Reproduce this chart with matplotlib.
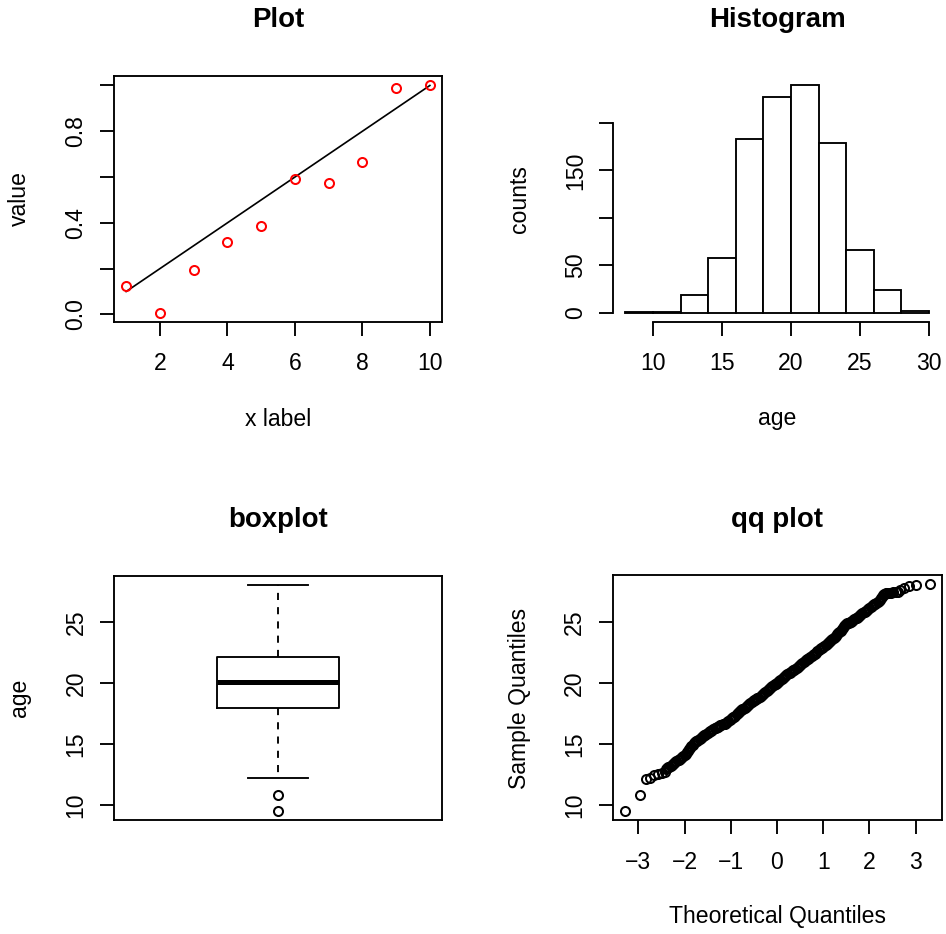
import numpy as np
import matplotlib
matplotlib.use("Agg")
import matplotlib.pyplot as plt

plt.rcParams['font.family'] = ['Liberation Sans', 'DejaVu Sans']

# ---------------- data ----------------
# Plot (top-left)
plot_x = [1, 2, 3, 4, 5, 6, 7, 8, 9, 10]
plot_y = [0.126, 0.008, 0.192, 0.316, 0.387, 0.592, 0.575, 0.665, 0.991, 1.003]
line_x = [1, 10]
line_y = [0.1, 1.0]
plot_xticks = [2, 4, 6, 8, 10]
plot_yticks = [0.0, 0.2, 0.4, 0.6, 0.8, 1.0]
plot_ylabels = ["0.0", "", "0.4", "", "0.8", ""]

# Histogram (top-right)
hist_edges = [8, 10, 12, 14, 16, 18, 20, 22, 24, 26, 28, 30]
hist_counts = [1, 1, 19, 58, 183, 227, 240, 179, 66, 24, 2]
hist_xticks = [10, 15, 20, 25, 30]
hist_yticks = [0, 50, 100, 150, 200]
hist_ylabels = ["0", "50", "", "150", ""]

# Boxplot (bottom-left)
box_med = 20.1
box_q1 = 17.95
box_q3 = 22.19
box_whislo = 12.2
box_whishi = 28.09
box_fliers = [10.85, 9.52]
box_yticks = [10, 15, 20, 25]

# QQ plot (bottom-right): theoretical quantile, sample quantile pairs
qq_theoretical = [
    -3.29, -2.97, -2.84, -2.75, -2.66, -2.57, -2.48, -2.43, -2.39,
    -2.375, -2.350, -2.325, -2.300, -2.275, -2.250, -2.225, -2.200,
    -2.175, -2.150, -2.125, -2.100, -2.075, -2.050, -2.025, -2.000,
    -1.975, -1.950, -1.925, -1.900, -1.875, -1.850, -1.825, -1.800,
    -1.775, -1.750, -1.725, -1.700, -1.675, -1.650, -1.625, -1.600,
    -1.575, -1.550, -1.525, -1.500, -1.475, -1.450, -1.425, -1.400,
    -1.375, -1.350, -1.325, -1.300, -1.275, -1.250, -1.225, -1.200,
    -1.175, -1.150, -1.125, -1.100, -1.075, -1.050, -1.025, -1.000,
    -0.975, -0.950, -0.925, -0.900, -0.875, -0.850, -0.825, -0.800,
    -0.775, -0.750, -0.725, -0.700, -0.675, -0.650, -0.625, -0.600,
    -0.575, -0.550, -0.525, -0.500, -0.475, -0.450, -0.425, -0.400,
    -0.375, -0.350, -0.325, -0.300, -0.275, -0.250, -0.225, -0.200,
    -0.175, -0.150, -0.125, -0.100, -0.075, -0.050, -0.025, 0.000,
    0.025, 0.050, 0.075, 0.100, 0.125, 0.150, 0.175, 0.200,
    0.225, 0.250, 0.275, 0.300, 0.325, 0.350, 0.375, 0.400,
    0.425, 0.450, 0.475, 0.500, 0.525, 0.550, 0.575, 0.600,
    0.625, 0.650, 0.675, 0.700, 0.725, 0.750, 0.775, 0.800,
    0.825, 0.850, 0.875, 0.900, 0.925, 0.950, 0.975, 1.000,
    1.025, 1.050, 1.075, 1.100, 1.125, 1.150, 1.175, 1.200,
    1.225, 1.250, 1.275, 1.300, 1.325, 1.350, 1.375, 1.400,
    1.425, 1.450, 1.475, 1.500, 1.525, 1.550, 1.575, 1.600,
    1.625, 1.650, 1.675, 1.700, 1.725, 1.750, 1.775, 1.800,
    1.825, 1.850, 1.875, 1.900, 1.925, 1.950, 1.975, 2.000,
    2.025, 2.050, 2.075, 2.100, 2.125, 2.150, 2.175, 2.200,
    2.225, 2.250, 2.27, 2.29, 2.31, 2.33, 2.35, 2.37,
    2.42, 2.47, 2.52, 2.57, 2.62, 2.67, 2.75, 2.86, 3.00, 3.30,
]
qq_sample = [
    9.52, 10.85, 12.19, 12.27, 12.46, 12.54, 12.62, 12.75, 12.95,
    13.02, 13.10, 13.17, 13.25, 13.32, 13.40, 13.47, 13.55,
    13.62, 13.70, 13.75, 13.80, 13.87, 13.95, 14.02, 14.10,
    14.22, 14.35, 14.47, 14.60, 14.72, 14.85, 14.97, 15.10,
    15.17, 15.25, 15.30, 15.35, 15.42, 15.50, 15.57, 15.65,
    15.72, 15.80, 15.87, 15.95, 16.00, 16.05, 16.10, 16.15,
    16.22, 16.30, 16.35, 16.40, 16.45, 16.50, 16.55, 16.60,
    16.62, 16.65, 16.70, 16.75, 16.82, 16.90, 16.97, 17.05,
    17.12, 17.20, 17.27, 17.35, 17.45, 17.55, 17.62, 17.70,
    17.77, 17.85, 17.92, 18.00, 18.07, 18.15, 18.22, 18.30,
    18.37, 18.45, 18.52, 18.60, 18.65, 18.70, 18.75, 18.80,
    18.87, 18.95, 19.02, 19.10, 19.20, 19.30, 19.37, 19.45,
    19.52, 19.60, 19.67, 19.75, 19.82, 19.90, 19.97, 20.05,
    20.12, 20.20, 20.27, 20.35, 20.42, 20.50, 20.57, 20.65,
    20.72, 20.80, 20.85, 20.90, 20.97, 21.05, 21.12, 21.20,
    21.27, 21.35, 21.42, 21.50, 21.57, 21.65, 21.72, 21.80,
    21.87, 21.95, 22.00, 22.05, 22.12, 22.20, 22.27, 22.35,
    22.42, 22.50, 22.60, 22.70, 22.77, 22.85, 22.92, 23.00,
    23.07, 23.15, 23.22, 23.30, 23.37, 23.45, 23.52, 23.60,
    23.70, 23.80, 23.90, 24.00, 24.10, 24.20, 24.30, 24.40,
    24.52, 24.65, 24.75, 24.85, 24.90, 24.95, 25.00, 25.05,
    25.10, 25.15, 25.22, 25.30, 25.37, 25.45, 25.52, 25.60,
    25.67, 25.75, 25.80, 25.85, 25.92, 26.00, 26.07, 26.15,
    26.22, 26.30, 26.37, 26.45, 26.52, 26.60, 26.67, 26.75,
    26.85, 26.95, 27.08, 27.20, 27.27, 27.32, 27.35, 27.38,
    27.40, 27.42, 27.43, 27.45, 27.50, 27.62, 27.81, 27.95, 28.03, 28.09,
]
qq_xticks = [-3, -2, -1, 0, 1, 2, 3]
qq_xticklabels = ['\u22123', '\u22122', '\u22121', '0', '1', '2', '3']
qq_yticks = [10, 15, 20, 25]

# ---------------- layout ----------------
W, H = 946, 934
fig = plt.figure(figsize=(W / 100, H / 100), dpi=100)

def add_ax(x0, y0, x1, y1):
    return fig.add_axes([x0 / W, 1 - y1 / H, (x1 - x0) / W, (y1 - y0) / H])

FS = 16.6
TFS = 19.9
LW = 1.35
MS = 6.5
MEW = 1.45

def style(ax, box=True):
    for s in ax.spines.values():
        s.set_linewidth(LW)
        s.set_visible(box)
    ax.tick_params(direction='out', length=10, width=LW, labelsize=FS,
                   top=False, right=False)
    ax.tick_params(axis='x', pad=12)
    ax.tick_params(axis='y', pad=9)
    ax.set_facecolor('white')

def rot_yticks(ax):
    for lab in ax.get_yticklabels():
        lab.set_rotation(90)
        lab.set_va('center')

def r_lim(lo, hi):
    r = hi - lo
    return lo - 0.04 * r, hi + 0.04 * r

def title(cx, cy, s):
    fig.text(cx / W, 1 - cy / H, s, ha='center', va='center',
             fontsize=TFS, fontweight='bold')

def xlab(cx, cy, s):
    fig.text(cx / W, 1 - cy / H, s, ha='center', va='center', fontsize=FS)

def ylab(cx, cy, s):
    fig.text(cx / W, 1 - cy / H, s, ha='center', va='center', fontsize=FS,
             rotation=90)

# --- Plot ---
ax1 = add_ax(114, 75.7, 442, 321.7)
style(ax1)
ax1.plot(line_x, line_y, color='black', lw=LW * 0.9)
ax1.plot(plot_x, plot_y, 'o', mfc='none', mec='red', ms=MS, mew=MEW)
ax1.set_xlim(*r_lim(min(plot_x), max(plot_x)))
ax1.set_ylim(*r_lim(min(plot_y), max(plot_y)))
ax1.set_xticks(plot_xticks)
ax1.set_yticks(plot_yticks)
ax1.set_yticklabels(plot_ylabels)
rot_yticks(ax1)
title(278, 20, 'Plot')
xlab(278, 419, 'x label')
ylab(19, 198.7, 'value')

# --- Histogram ---
ax2 = add_ax(613.3, 76, 941, 321.7)
style(ax2, box=False)
edges = np.array(hist_edges, dtype=float)
ax2.bar(edges[:-1], hist_counts, width=np.diff(edges), align='edge',
        color='white', edgecolor='black', linewidth=LW)
ax2.set_xlim(*r_lim(edges[0], edges[-1]))
ax2.set_ylim(*r_lim(0, max(hist_counts)))
ax2.spines['left'].set_visible(True)
ax2.spines['bottom'].set_visible(True)
ax2.spines['left'].set_bounds(hist_yticks[0], hist_yticks[-1])
ax2.spines['bottom'].set_bounds(hist_xticks[0], hist_xticks[-1])
ax2.set_xticks(hist_xticks)
ax2.set_yticks(hist_yticks)
ax2.set_yticklabels(hist_ylabels)
rot_yticks(ax2)
title(777, 20, 'Histogram')
xlab(777, 419, 'age')
ylab(519, 198.7, 'counts')

# --- Boxplot ---
ax3 = add_ax(114, 575.7, 442, 820)
style(ax3)
stats = [dict(med=box_med, q1=box_q1, q3=box_q3, whislo=box_whislo,
              whishi=box_whishi, fliers=box_fliers)]
ax3.bxp(stats, positions=[1], widths=0.372, capwidths=0.183,
        showfliers=True,
        boxprops=dict(color='black', linewidth=LW),
        medianprops=dict(color='black', linewidth=3.6, solid_capstyle='butt'),
        whiskerprops=dict(color='black', linewidth=LW, linestyle=(0, (3.8, 3.8))),
        capprops=dict(color='black', linewidth=LW),
        flierprops=dict(marker='o', mfc='none', mec='black', ms=MS, mew=MEW))
ax3.set_xlim(0.5, 1.5)
ax3.set_ylim(*r_lim(min(box_fliers + [box_whislo]), box_whishi))
ax3.set_xticks([])
ax3.set_yticks(box_yticks)
rot_yticks(ax3)
title(278, 520, 'boxplot')
ylab(19, 698, 'age')

# --- QQ plot ---
ax4 = add_ax(612.7, 575.3, 941.7, 820.3)
style(ax4)
ax4.plot(qq_theoretical, qq_sample, 'o', mfc='none', mec='black', ms=MS, mew=MEW)
ax4.set_xlim(*r_lim(min(qq_theoretical), max(qq_theoretical)))
ax4.set_ylim(*r_lim(min(qq_sample), max(qq_sample)))
ax4.set_xticks(qq_xticks)
ax4.set_xticklabels(qq_xticklabels)
ax4.set_yticks(qq_yticks)
rot_yticks(ax4)
title(777, 520, 'qq plot')
xlab(777, 917, 'Theoretical Quantiles')
ylab(519, 698, 'Sample Quantiles')

fig.savefig('out.png', dpi=100, facecolor='white')
